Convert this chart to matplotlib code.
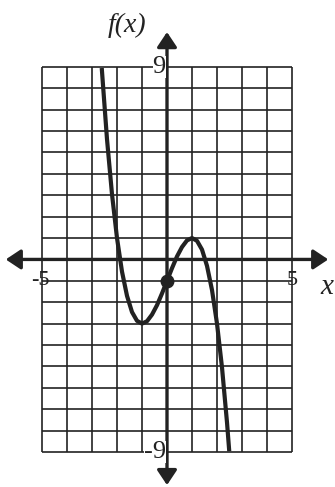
import matplotlib
matplotlib.use('Agg')
from matplotlib import pyplot as plt

# points
curve_x = [-2.61, -2.4, -2.2, -2.0, -1.8, -1.6, -1.4, -1.2, -1.0, -0.8, -0.6, -0.4, -0.2,
           0.0, 0.2, 0.4, 0.6, 0.8, 1.0, 1.2, 1.4, 1.6, 1.8, 2.0, 2.2, 2.4, 2.49]
curve_y = [8.95, 5.62, 3.05, 1.0, -0.57, -1.70, -2.46, -2.87, -3.0, -2.89, -2.58, -2.14, -1.59,
           -1.0, -0.41, 0.14, 0.58, 0.89, 1.0, 0.87, 0.46, -0.30, -1.43, -3.0, -5.05, -7.62, -8.97]
point_x = [0]
point_y = [-1]

x_ticks = [-5, 5]
x_tick_labels = ['-5', '5']
y_ticks = [9, -9]
y_tick_labels = ['9', '-9']
grid_x = list(range(-5, 6))
grid_y = list(range(-9, 10))

ink = '#222222'
serif = ['Liberation Serif', 'DejaVu Serif']

fig = plt.figure(figsize=(3.35, 4.87), dpi=100)
ax = fig.add_axes([0, 0, 1, 1])
ax.set_xlim(-6.68, 6.72)
ax.set_ylim(-10.64, 12.13)
ax.axis('off')

# grid
ax.vlines(grid_x, -9, 9, color=ink, lw=1.2, zorder=1)
ax.hlines(grid_y, -5, 5, color=ink, lw=1.2, zorder=1)

# axes with arrows
arrow = dict(arrowstyle='<|-|>,head_length=0.45,head_width=0.3', mutation_scale=20,
             lw=2.4, color=ink, shrinkA=0, shrinkB=0)
ax.annotate('', xy=(-6.45, 0), xytext=(6.45, 0), arrowprops=arrow, zorder=2)
ax.annotate('', xy=(0, 10.63), xytext=(0, -10.55), arrowprops=arrow, zorder=2)

# curve and point
ax.plot(curve_x, curve_y, color=ink, lw=3.0, solid_capstyle='butt', zorder=3)
ax.plot(point_x, point_y, 'o', color=ink, markersize=9, zorder=4)

# labels
for x, lab in zip(x_ticks, x_tick_labels):
    ax.text(x - 0.05 if x < 0 else x, -1.0, lab, family=serif, fontsize=16,
            ha='center', va='center', color=ink)
for y, lab in zip(y_ticks, y_tick_labels):
    ax.text(-0.05, y, lab, family=serif, fontsize=19, ha='right', va='center', color=ink,
            bbox=dict(facecolor='white', edgecolor='none', pad=0))

ax.text(-1.6, 10.95, 'f(x)', family=serif, style='italic', fontsize=20,
        ha='center', va='center', color=ink)
ax.text(6.4, -1.3, 'x', family=serif, style='italic', fontsize=21,
        ha='center', va='center', color=ink)

plt.savefig('out.png', dpi=100)
